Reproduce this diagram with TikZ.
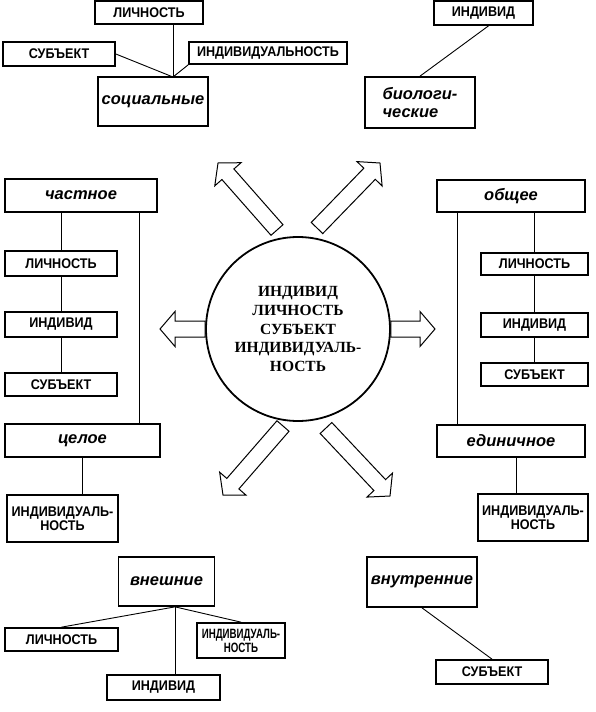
\documentclass[tikz,border=0pt]{standalone}
\usepackage{fontspec}
\setmainfont{Liberation Serif}
\setsansfont{Liberation Sans}
\newfontfamily\boxsans{Liberation Sans}[FakeStretch=0.9]
\newfontfamily\narrowsans{Liberation Sans}[FakeStretch=0.72]
\usetikzlibrary{calc}
\tikzset{
  box/.style={draw, line width=1.7pt, inner sep=0pt, align=center,
    font=\boxsans\bfseries\fontsize{14}{14.5}\selectfont},
  narrowbox/.style={box, font=\narrowsans\bfseries\fontsize{13.5}{14}\selectfont},
  lab/.style={box, font=\sffamily\bfseries\itshape\fontsize{16.5}{18}\selectfont},
  link/.style={line width=0.9pt},
  arr/.style={line width=1pt, fill=white, line join=miter},
  core/.style={circle, draw, line width=1.8pt, minimum size=184pt, inner sep=0pt, align=center,
    font=\rmfamily\bfseries\fontsize{15.5}{18.6}\selectfont},
}
\newcommand\hollowarrow[3]{%
  \coordinate (#1h) at ($(#3)!15pt!(#2)$);
  \draw[arr] ($(#2)!8pt!90:(#3)$) -- ($(#1h)!8pt!90:(#3)$) -- ($(#1h)!17.5pt!90:(#3)$) -- (#3)
    -- ($(#1h)!17.5pt!-90:(#3)$) -- ($(#1h)!8pt!-90:(#3)$) -- ($(#2)!8pt!-90:(#3)$) -- cycle;}
\begin{document}
\begin{tikzpicture}[x=1pt,y=-1pt]
\fill[white] (0,0) rectangle (596,712);
\useasboundingbox (0,0) rectangle (596,712);

% top left cluster
\node[box,minimum width=108,minimum height=23] (tL) at (149,12.5) {ЛИЧНОСТЬ};
\node[box,minimum width=112,minimum height=24] (tS) at (59,54) {СУБЪЕКТ};
\node[box,minimum width=158,minimum height=22] (tI) at (268,53) {ИНДИВИДУАЛЬНОСТЬ};
\node[lab,minimum width=110,minimum height=49] (soc) at (153,101.5) {социальные};
\coordinate (socj) at (173,77);
\draw[link] (socj) -- (socj |- tL.south);
\draw[link] (socj) -- (tS.east);
\draw[link] (socj) -- (tI.south west);

% top right cluster
\node[box,minimum width=99,minimum height=24] (tInd) at (483.5,13) {ИНДИВИД};
\node[lab,minimum width=110,minimum height=51,align=left] (bio) at (420,102.5) {биологи-\\ческие};
\draw[link] (bio.north) -- ([xshift=5pt]tInd.south);

% left column
\node[lab,minimum width=152,minimum height=33] (chast) at (81,195.5) {частное};
\node[box,minimum width=112,minimum height=25] (lL) at (61,263.5) {ЛИЧНОСТЬ};
\node[box,minimum width=112,minimum height=25] (lI) at (61,324.5) {ИНДИВИД};
\node[box,minimum width=112,minimum height=23] (lS) at (61,384.5) {СУБЪЕКТ};
\node[lab,minimum width=155,minimum height=33] (cel) at (82.5,440.5) {целое};
\node[box,minimum width=111,minimum height=47] (lInd) at (62.5,518.5) {ИНДИВИДУАЛЬ-\\НОСТЬ};
\draw[link] (lL.north |- chast.south) -- (lL.north);
\draw[link] (lL.south) -- (lI.north);
\draw[link] (lI.south) -- (lS.north);
\coordinate (lv) at (139,0);
\draw[link] (lv |- chast.south) -- (lv |- cel.north);
\draw[link] (cel.south) -- (cel.south |- lInd.north);

% right column
\node[lab,minimum width=148,minimum height=32] (obsh) at (511,196) {общее};
\node[box,minimum width=107,minimum height=22] (rL) at (534.5,264) {ЛИЧНОСТЬ};
\node[box,minimum width=107,minimum height=24] (rI) at (534.5,325) {ИНДИВИД};
\node[box,minimum width=107,minimum height=23] (rS) at (534.5,374.5) {СУБЪЕКТ};
\node[lab,minimum width=148,minimum height=32] (edin) at (511,441) {единичное};
\node[box,minimum width=110,minimum height=47] (rInd) at (533,517.5) {ИНДИВИДУАЛЬ-\\НОСТЬ};
\draw[link] (rL.north |- obsh.south) -- (rL.north);
\draw[link] (rL.south) -- (rI.north);
\draw[link] (rI.south) -- (rS.north);
\coordinate (rv) at (457,0);
\draw[link] (rv |- obsh.south) -- (rv |- edin.north);
\coordinate (rv2) at (516,0);
\draw[link] (rv2 |- edin.south) -- (rv2 |- rInd.north);

% centre
\node[core] (c) at (298,329) {ИНДИВИД\\ЛИЧНОСТЬ\\СУБЪЕКТ\\ИНДИВИДУАЛЬ-\\НОСТЬ};
\coordinate (aLt) at (160,329);
\coordinate (aRt) at (435,329);
\hollowarrow{aL}{c.west}{aLt}
\hollowarrow{aR}{c.east}{aRt}
\coordinate (ulT) at (277,230); \coordinate (ulP) at (218,163);
\coordinate (urT) at (317,228); \coordinate (urP) at (380,163);
\coordinate (llT) at (283,426); \coordinate (llP) at (223,495);
\coordinate (lrT) at (326,428); \coordinate (lrP) at (390,496);
\hollowarrow{ul}{ulT}{ulP}
\hollowarrow{ur}{urT}{urP}
\hollowarrow{ll}{llT}{llP}
\hollowarrow{lr}{lrT}{lrP}

% bottom left cluster
\node[lab,minimum width=96,minimum height=49] (vnesh) at (166.5,581.5) {внешние};
\node[box,minimum width=113,minimum height=23] (bL) at (61.5,639.5) {ЛИЧНОСТЬ};
\node[narrowbox,minimum width=88,minimum height=35] (bIA) at (241,640.5) {ИНДИВИДУАЛЬ-\\НОСТЬ};
\node[box,minimum width=113,minimum height=25] (bI) at (163.5,687.5) {ИНДИВИД};
\coordinate (vj) at ([xshift=8.5pt]vnesh.south);
\draw[link] (vj) -- (bL.north);
\draw[link] (vj) -- (vj |- bI.north);
\draw[link] (vj) -- (bIA.north);

% bottom right cluster
\node[lab,minimum width=110,minimum height=50] (vnutr) at (422,582) {внутренние};
\node[box,minimum width=112,minimum height=24] (bS) at (492,672) {СУБЪЕКТ};
\draw[link] (vnutr.south) -- (bS.north);
\end{tikzpicture}
\end{document}
